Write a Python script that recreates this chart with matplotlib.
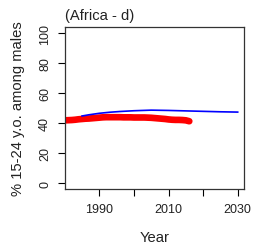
import matplotlib
matplotlib.use("Agg")
import matplotlib.pyplot as plt

plt.rcParams['font.family'] = ['Liberation Sans', 'DejaVu Sans']

# observed share (red)
obs_years = list(range(1980, 2017))
obs_values = [41.8, 41.9, 42.0, 42.2, 42.5, 42.7, 42.9, 43.0, 43.2, 43.4,
              43.6, 43.8, 43.9, 43.9, 43.9, 43.9, 43.9, 43.8, 43.8, 43.8,
              43.7, 43.7, 43.7, 43.7, 43.6, 43.5, 43.3, 43.1, 42.9, 42.7,
              42.4, 42.2, 42.1, 42.1, 42.0, 41.8, 41.2]

# projected share (blue)
proj_years = [1985, 1987, 1990, 1993, 1996, 2000, 2005, 2010, 2015, 2020, 2025, 2030]
proj_values = [44.7, 45.5, 46.5, 47.2, 47.7, 48.2, 48.6, 48.4, 48.1, 47.8, 47.5, 47.3]

xticks = [1990, 2000, 2010, 2020, 2030]
xtick_labels = ['1990', '', '2010', '', '2030']
yticks = [0, 20, 40, 60, 80, 100]

fig = plt.figure(figsize=(2.54, 2.53), dpi=100)
ax = fig.add_axes([0.256, 0.249, 0.706, 0.640])

ax.plot(obs_years, obs_values, color='red', linewidth=4.8, solid_capstyle='round')
ax.plot(proj_years, proj_values, color='blue', linewidth=1.2)

ax.set_xlim(1980.08, 2031.92)
ax.set_ylim(-4, 104)
ax.set_xticks(xticks)
ax.set_xticklabels(xtick_labels)
ax.set_yticks(yticks)
ax.set_yticklabels([str(v) for v in yticks], rotation=90, va='center')
ax.tick_params(length=5, width=0.8, labelsize=9, pad=5, labelcolor='#222222')

for s in ax.spines.values():
    s.set_color('#333333')
    s.set_linewidth(0.9)

ax.set_title('(Africa - d)', loc='left', fontsize=10.6, pad=6, x=0.0, color='#222222')
ax.set_xlabel('Year', fontsize=10.6, labelpad=11, color='#222222')
ax.set_ylabel('% 15-24 y.o. among males', fontsize=10.6, labelpad=10, color='#222222')

fig.savefig('out.png', dpi=100)
